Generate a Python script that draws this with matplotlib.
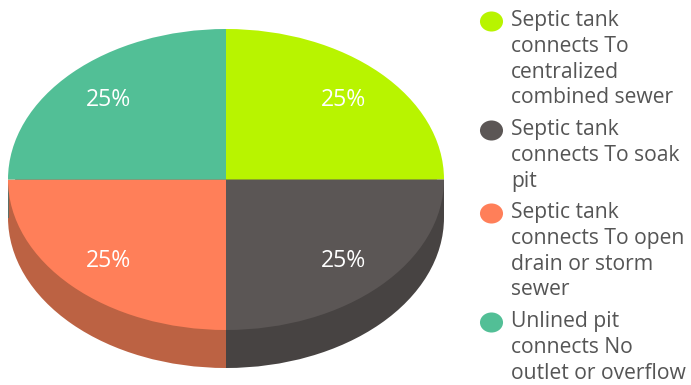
import matplotlib
matplotlib.use('Agg')
import matplotlib.pyplot as plt
from matplotlib.lines import Line2D
from matplotlib.path import Path
from matplotlib.transforms import Affine2D

# Pie data
labels = [
    'Septic tank\nconnects To\ncentralized\ncombined sewer',
    'Septic tank\nconnects To soak\npit',
    'Septic tank\nconnects To open\ndrain or storm\nsewer',
    'Unlined pit\nconnects No\noutlet or overflow',
]
values = [25, 25, 25, 25]
colors = ['#B8F400', '#5B5655', '#FF7F59', '#52BF96']
side_colors = ['#B8F400', '#474342', '#BC6243', '#5C6F66']

W, H = 691, 385
cx, cy = 226, 179.5
rx, ry = 218, 150.5
depth = 38 / ry

plt.rcParams['font.family'] = ['Open Sans', 'DejaVu Sans']
fig = plt.figure(figsize=(W / 100, H / 100), dpi=100)
ax = fig.add_axes([0, 0, 1, 1])

# Side wall: a lowered pie plus bars that close the gap up to the top face
ax.pie(values, colors=side_colors, startangle=90, counterclock=False,
       center=(0, -depth), radius=1)
ax.bar([-0.5, 0.5], [-depth, -depth], width=[1.0, 1.0],
       color=[side_colors[2], side_colors[1]], align='center', zorder=1)
ax.bar([-0.999], [-depth], width=0.006, color=side_colors[3], zorder=1.5)
ax.bar([0.999], [-depth], width=0.006, color=side_colors[1], zorder=1.5)

# Top face with the percent labels
wedges, _, pct = ax.pie(values, colors=colors, startangle=90, counterclock=False,
                        autopct='%d%%', pctdistance=0.76, radius=1)
for w in wedges:
    w.set_zorder(2)
for t in pct:
    t.set_color('white')
    t.set_fontsize(16.6)
    t.set_zorder(3)
    x, y = t.get_position()
    t.set_position((x, y - 1 / ry))

# Stretch the unit pie into an ellipse
ax.set_aspect('auto')
ax.set_xlim(-cx / rx, (W - cx) / rx)
ax.set_ylim((cy - H) / ry, cy / ry)

# Legend: ellipse swatch beside the first line of each label
swatch = Path.unit_circle().transformed(Affine2D().scale(1, 0.87))
legend_tops = [10, 119, 202, 311]
for lab, col, top in zip(labels, colors, legend_tops):
    fig.add_artist(Line2D([490.5 / W], [1 - (top + 11) / H], marker=swatch,
                          markersize=16.6, color=col, linestyle='none',
                          markeredgewidth=0, transform=fig.transFigure))
    fig.text(511 / W, 1 - top / H, lab, color='#555555', fontsize=15.2,
             va='top', ha='left', linespacing=1.3)

fig.savefig('out.png', dpi=100)
